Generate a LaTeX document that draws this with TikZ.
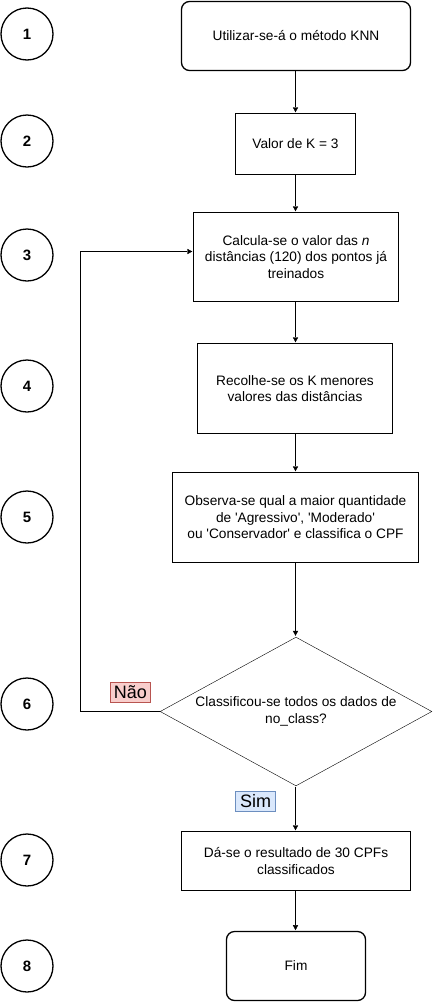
\documentclass[tikz,border=0pt]{standalone}
\usepackage{fontspec}
\setmainfont{Liberation Sans}
\usetikzlibrary{shapes.geometric,arrows.meta}
\begin{document}
\begin{tikzpicture}[x=1bp,y=-1bp,
  every node/.style={font=\fontsize{13.7bp}{16.5bp}\selectfont},
  num/.style={draw,circle,line width=1.3bp,minimum size=52bp,inner sep=0pt,font=\fontsize{15bp}{18bp}\selectfont\bfseries},
  rbox/.style={draw,line width=1.3bp,rounded corners=8bp,align=center,inner sep=0pt},
  pbox/.style={draw,align=center,inner sep=0pt},
  arr/.style={-{Triangle[length=6bp,width=6bp]}},
  lbl/.style={draw,inner xsep=2bp,inner ysep=1bp,minimum width=40bp,minimum height=20bp,font=\fontsize{18bp}{20bp}\selectfont}
]
\useasboundingbox (0,0) rectangle (433,1002);
\tikzset{line width=1bp}
% circles
\node[num] (c1) at (27,34) {1};
\node[num] (c2) at (27,141) {2};
\node[num] (c3) at (27,255) {3};
\node[num] (c4) at (27,386) {4};
\node[num] (c5) at (27,517) {5};
\node[num] (c6) at (27,704) {6};
\node[num] (c7) at (27,860) {7};
\node[num] (c8) at (27,966) {8};
% boxes
\node[rbox,minimum width=229bp,minimum height=69bp] (b1) at (296,36) {Utilizar-se-á o método KNN};
\node[pbox,minimum width=120bp,minimum height=61bp] (b2) at (295.5,144) {Valor de K = 3};
\node[pbox,minimum width=205bp,minimum height=89bp] (b3) at (296,257) {Calcula-se o valor das \textit{n}\\distâncias (120) dos pontos já\\treinados};
\node[pbox,minimum width=195bp,minimum height=90bp] (b4) at (295,388.5) {Recolhe-se os K menores\\valores das distâncias};
\node[pbox,minimum width=246bp,minimum height=90bp] (b5) at (295.5,517.5) {Observa-se qual a maior quantidade\\de \textquotesingle Agressivo\textquotesingle, \textquotesingle Moderado\textquotesingle\\ou \textquotesingle Conservador\textquotesingle{} e classifica o CPF};
\node[draw,diamond,minimum width=272bp,minimum height=149bp,inner sep=0pt] (d6) at (296,711.5) {};
\node[align=center] (t6) at (296,711.5) {Classificou-se todos os dados de\\no\_class?};
\node[pbox,minimum width=229bp,minimum height=59bp] (b7) at (296,861) {Dá-se o resultado de 30 CPFs\\classificados};
\node[rbox,minimum width=139bp,minimum height=69bp] (b8) at (296,966) {Fim};
% arrows
\draw[arr] (b1.south -| b2.south) -- (b2.north);
\draw[arr] (b2.south) -- (b3.north -| b2.south);
\draw[arr] (b3.south -| b2.south) -- (b4.north -| b2.south);
\draw[arr] (b4.south -| b2.south) -- (b5.north -| b2.south);
\draw[arr] (b5.south -| b2.south) -- (d6.north -| b2.south);
\draw[arr] (d6.south -| b2.south) -- (b7.north -| b2.south);
\draw[arr] (b7.south -| b2.south) -- (b8.north -| b2.south);
\coordinate (lp1) at (80.5,711.5);
\coordinate (lp2) at (80.5,251.5);
\draw[arr] (d6.west) -- (lp1) -- (lp2) -- (lp2 -| b3.west);
\node[lbl,fill={rgb,255:red,248;green,206;blue,204},draw={rgb,255:red,184;green,84;blue,80}] (nao) at (130.5,692.5) {Não};
\node[lbl,fill={rgb,255:red,218;green,232;blue,252},draw={rgb,255:red,108;green,142;blue,191}] (sim) at (255.5,801.5) {Sim};
\end{tikzpicture}
\end{document}
